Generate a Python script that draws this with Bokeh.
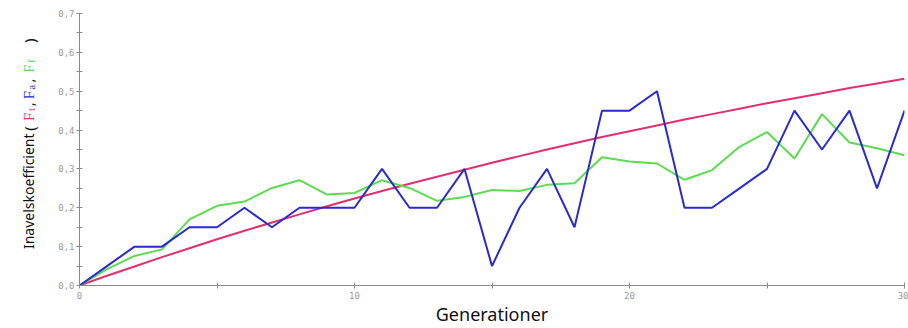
from bokeh.plotting import figure
from bokeh.layouts import row
from bokeh.models import Range1d, FixedTicker, CustomJSTickFormatter
from bokeh.core.properties import value
from bokeh.embed import file_html
from bokeh.resources import INLINE
import math

# ---- data ----
generations = list(range(31))
F_t = [0.0, 0.025, 0.049, 0.073, 0.096, 0.119, 0.141, 0.162, 0.183, 0.204, 0.224,
       0.243, 0.262, 0.280, 0.298, 0.316, 0.333, 0.350, 0.366, 0.382, 0.397,
       0.412, 0.427, 0.441, 0.455, 0.469, 0.482, 0.495, 0.508, 0.520, 0.532]
F_a = [0.0, 0.05, 0.10, 0.10, 0.15, 0.15, 0.20, 0.15, 0.20, 0.20, 0.20,
       0.30, 0.20, 0.20, 0.30, 0.05, 0.20, 0.30, 0.15, 0.45, 0.45,
       0.50, 0.20, 0.20, 0.25, 0.30, 0.45, 0.35, 0.45, 0.25, 0.45]
F_f = [0.0, 0.042, 0.076, 0.093, 0.170, 0.205, 0.216, 0.251, 0.271, 0.234, 0.238,
       0.271, 0.251, 0.218, 0.228, 0.246, 0.243, 0.259, 0.263, 0.330, 0.319,
       0.314, 0.272, 0.297, 0.357, 0.395, 0.327, 0.441, 0.368, 0.353, 0.335]
x_ticks = [0, 10, 20, 30]
x_minor = [5, 15, 25]
y_ticks = [0.0, 0.1, 0.2, 0.3, 0.4, 0.5, 0.6, 0.7]
y_minor = [0.05, 0.15, 0.25, 0.35, 0.45, 0.55, 0.65]
x_title = "Generationer"
y_title_parts = ["Inavelskoefficient", "(", "F", "t", ",", "F", "a", ",", "F", "f", ")"]

RED = "#e2306a"
BLUE = "#2a2ad2"
GREEN = "#5cdc50"
AXIS = "#8a8a8a"
INK = "#111111"

LABEL_W = 40
TOP, BOTTOM = 13, 39          # borders shared by both panels
H = 328

# ---- y-axis title strip (range = page pixels) ----
lab = figure(width=LABEL_W, height=H, output_backend="svg", toolbar_location=None,
             x_range=Range1d(0, LABEL_W), y_range=Range1d(H - BOTTOM, TOP),
             x_axis_type=None, y_axis_type=None,
             min_border_left=0, min_border_right=0, min_border_top=TOP,
             min_border_bottom=BOTTOM)
lab.outline_line_color = None
lab.grid.visible = False
# style per part: (page y start, colour, size, serif, subscript)
part_style = [
    (252, INK, "14px", False, False),
    (132, INK, "15px", False, False),
    (122, RED, "15px", True, False),
    (112, RED, "10px", True, True),
    (107, INK, "15px", False, False),
    (100, BLUE, "15px", True, False),
    (90, BLUE, "10px", True, True),
    (83, INK, "15px", False, False),
    (73, GREEN, "15px", True, False),
    (63, GREEN, "10px", True, True),
    (43, INK, "15px", False, False),
]
for txt, (ys, col, size, serif, sub) in zip(y_title_parts, part_style):
    lab.text(x=[31 if sub else 28], y=[ys], text=[txt], angle=math.pi / 2,
             text_font=value("Liberation Serif" if serif else "Noto Sans"),
             text_font_size=value(size), text_color=col,
             text_align="left", text_baseline="alphabetic")

# ---- main chart ----
p = figure(width=908 - LABEL_W, height=H, output_backend="svg", toolbar_location=None,
           x_range=Range1d(0, 30), y_range=Range1d(0, 0.7),
           min_border_left=79 - LABEL_W, min_border_right=4, min_border_top=TOP,
           min_border_bottom=BOTTOM)
p.outline_line_color = None
p.grid.visible = False

p.line(generations, F_t, line_color=RED, line_width=2)
p.line(generations, F_f, line_color=GREEN, line_width=2)
p.line(generations, F_a, line_color=BLUE, line_width=2)

for ax in (p.xaxis[0], p.yaxis[0]):
    ax.axis_line_color = AXIS
    ax.major_tick_line_color = AXIS
    ax.minor_tick_line_color = AXIS
    ax.major_tick_in = 3
    ax.major_tick_out = 3
    ax.minor_tick_in = 3
    ax.minor_tick_out = 3
    ax.major_label_text_font = "DejaVu Sans Mono"
    ax.major_label_text_font_size = "9px"
    ax.major_label_text_color = "#9a9a9a"

p.xaxis[0].ticker = FixedTicker(ticks=x_ticks, minor_ticks=x_minor)
p.xaxis[0].major_label_standoff = 3
p.xaxis[0].axis_label = x_title
p.xaxis[0].axis_label_text_font = "Noto Sans"
p.xaxis[0].axis_label_text_font_size = "18px"
p.xaxis[0].axis_label_text_font_style = "normal"
p.xaxis[0].axis_label_text_color = INK
p.xaxis[0].axis_label_standoff = 0

p.yaxis[0].ticker = FixedTicker(ticks=y_ticks, minor_ticks=y_minor)
p.yaxis[0].formatter = CustomJSTickFormatter(code="return tick.toFixed(1).replace('.', ',');")
p.yaxis[0].major_label_standoff = 2

layout = row(lab, p, spacing=0)
open("out.html", "w").write(file_html(layout, INLINE))
